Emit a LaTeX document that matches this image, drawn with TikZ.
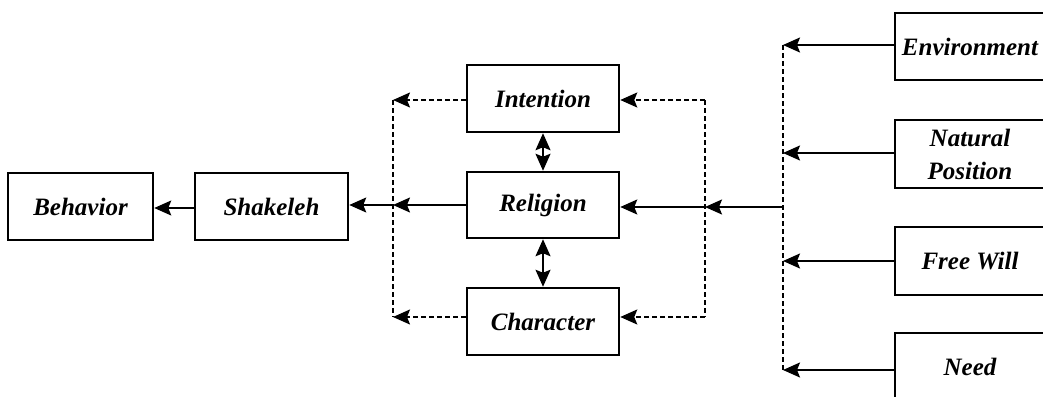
\documentclass[tikz,border=0pt]{standalone}
\usepackage{fontspec}
\setmainfont{Liberation Serif}
\usetikzlibrary{arrows.meta}
\begin{document}
\begin{tikzpicture}[x=1pt,y=-1pt,
  box/.style={draw, line width=2.5pt, minimum height=67pt, inner sep=0pt, align=center,
    font=\fontsize{25}{33}\selectfont\bfseries\itshape},
  tip/.tip={Stealth[length=17pt,width=15pt,inset=3pt]},
  link/.style={line width=1.8pt, arrows={-tip}},
  dlink/.style={line width=1.8pt, dash pattern=on 5pt off 3pt, arrows={-tip}},
  dline/.style={line width=1.8pt, dash pattern=on 5pt off 3pt},
  both/.style={line width=1.8pt, arrows={tip-tip}}]
\useasboundingbox (0,0) rectangle (1043,396);
% main chain
\node[box, minimum width=145pt] (behavior) at (80.5,206.5) {Behavior};
\node[box, minimum width=153pt] (shakeleh) at (271.5,206.5) {Shakeleh};
\node[box, minimum width=152pt] (intention) at (543,98.5) {Intention};
\node[box, minimum width=152pt, minimum height=66pt] (religion) at (543,205) {Religion};
\node[box, minimum width=152pt] (character) at (543,321.5) {Character};
% factors on the right
\node[box, minimum width=150pt] (environment) at (970,46.5) {Environment};
\node[box, minimum width=150pt, minimum height=68pt] (natural) at (970,154) {Natural\\Position};
\node[box, minimum width=150pt, minimum height=68pt] (freewill) at (970,261) {Free Will};
\node[box, minimum width=150pt] (need) at (970,366.5) {Need};
% junction points
\coordinate (lt) at (393,100);
\coordinate (lm) at (393,205);
\coordinate (lb) at (393,317);
\coordinate (rt) at (705,100);
\coordinate (rm) at (705,207);
\coordinate (rb) at (705,317);
\coordinate (c1) at (783,45);
\coordinate (c2) at (783,153);
\coordinate (c3) at (783,261);
\coordinate (c4) at (783,370);
\coordinate (cm) at (783,207);
% solid chain
\draw[link] (shakeleh.west |- 0,208) -- (behavior.east |- 0,208);
\draw[link] (religion.west |- lm) -- (lm);
\draw[link] (lm) -- (shakeleh.east |- lm);
\draw[link] (cm) -- (rm);
\draw[link] (rm) -- (religion.east |- rm);
% factor arrows into the collector line
\draw[link] (environment.west |- c1) -- (c1);
\draw[link] (natural.west |- c2) -- (c2);
\draw[link] (freewill.west |- c3) -- (c3);
\draw[link] (need.west |- c4) -- (c4);
\draw[dline] (c1) -- (c4);
% dashed loops
\draw[dline] (rt) -- (rb);
\draw[dlink] (rt) -- (intention.east |- rt);
\draw[dlink] (rb) -- (character.east |- rb);
\draw[dline] (lt) -- (lb);
\draw[dlink] (intention.west |- lt) -- (lt);
\draw[dlink] (character.west |- lb) -- (lb);
% two-way links
\draw[both] (intention.south) -- (religion.north);
\draw[both] (religion.south) -- (character.north);
\end{tikzpicture}
\end{document}
